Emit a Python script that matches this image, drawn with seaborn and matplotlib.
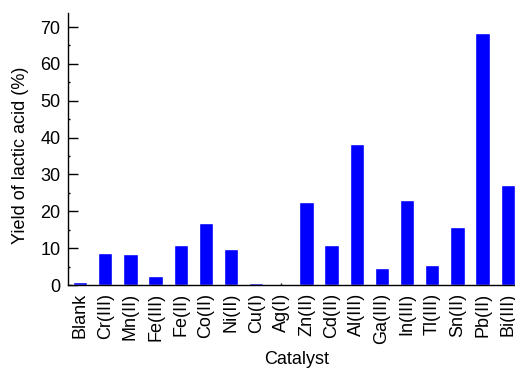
# Catalyst screening: yield of lactic acid
import pandas as pd
import matplotlib
matplotlib.use("Agg")
import matplotlib.pyplot as plt
import seaborn as sns
from matplotlib.ticker import MultipleLocator

catalysts = ["Blank", "Cr(III)", "Mn(II)", "Fe(III)", "Fe(II)", "Co(II)", "Ni(II)",
             "Cu(I)", "Ag(I)", "Zn(II)", "Cd(II)", "Al(III)", "Ga(III)", "In(III)",
             "Tl(III)", "Sn(II)", "Pb(II)", "Bi(III)"]
yields = [0.8, 8.6, 8.3, 2.4, 10.9, 16.7, 9.9, 0.6, 0.1, 22.5, 10.9, 38.2,
          4.5, 23.1, 5.3, 15.7, 68.3, 27.0]

df = pd.DataFrame({"Catalyst": catalysts, "Yield": yields})

sns.set_style("ticks")
plt.rcParams["font.family"] = ["Liberation Sans", "DejaVu Sans"]
plt.rcParams["text.color"] = "black"
plt.rcParams["axes.labelcolor"] = "black"
plt.rcParams["xtick.color"] = "black"
plt.rcParams["ytick.color"] = "black"
plt.rcParams["axes.edgecolor"] = "black"

fig = plt.figure(figsize=(5.15, 3.73), dpi=100)
ax = fig.add_axes([68 / 515, 1 - 285 / 373, 1 - 68 / 515 + 0.02, (285 - 13) / 373])

sns.barplot(data=df, x="Catalyst", y="Yield", color="#0000ff", saturation=1,
            width=0.57, ax=ax)

ax.set_xlim(-0.48, 17.29 + 0.02 * 515 / 25.16)
ax.set_ylim(0, 73.8)
ax.yaxis.set_major_locator(MultipleLocator(10))
ax.yaxis.set_minor_locator(MultipleLocator(5))
ax.tick_params(axis="y", which="major", direction="in", length=7.5, width=1,
               labelsize=13, pad=5.5)
ax.tick_params(axis="y", which="minor", direction="in", length=1.5, width=1)
ax.tick_params(axis="x", direction="in", length=1.5, width=1, labelsize=13,
               rotation=90, pad=5.5)
ax.set_xlabel("Catalyst", fontsize=13, labelpad=5)
ax.set_ylabel("Yield of lactic acid (%)", fontsize=13)
ax.yaxis.set_label_coords(-0.085, 0.478)
sns.despine(ax=ax)
ax.spines["left"].set_linewidth(1)
ax.spines["bottom"].set_linewidth(1)

fig.savefig("out.png", dpi=100)
